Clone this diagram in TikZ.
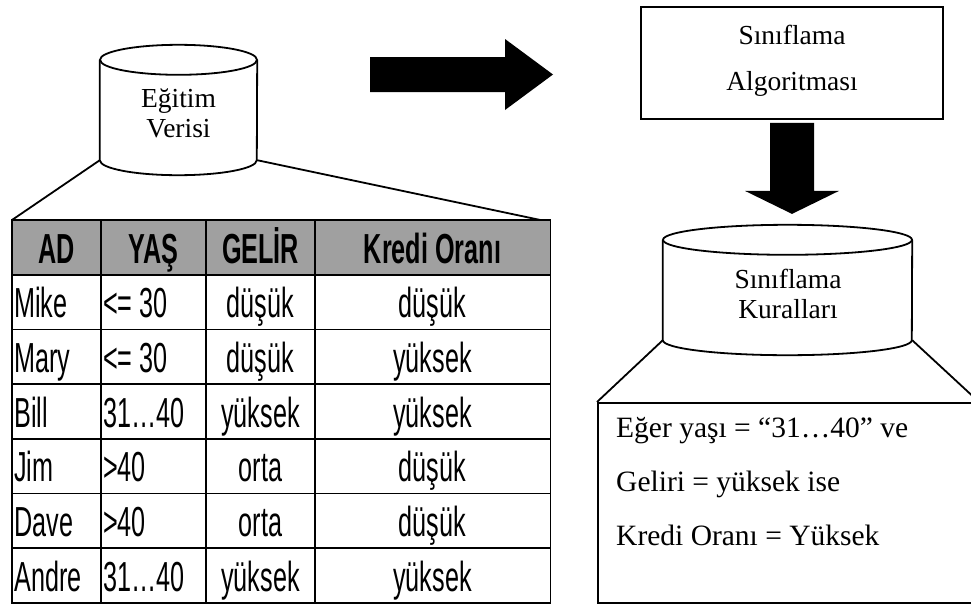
\documentclass[tikz,border=0pt]{standalone}
\usepackage{fontspec}
\setmainfont{Liberation Serif}
\newfontfamily\tabfont[FakeStretch=0.6]{Liberation Sans}
\usetikzlibrary{calc}
\definecolor{headgray}{RGB}{160,160,160}

\begin{document}
\begin{tikzpicture}[x=1pt,y=-1pt,
  outline/.style={draw=black,line width=1.8pt},
  serif/.style={font=\fontsize{27.5}{30}\selectfont,inner sep=0pt,anchor=base},
  ruletext/.style={font=\fontsize{29.5}{32}\selectfont,inner sep=0pt,anchor=base west},
  headcell/.style={font=\tabfont\bfseries\fontsize{42}{46}\selectfont,inner sep=0pt,anchor=base},
  cellc/.style={font=\tabfont\fontsize{42}{46}\selectfont,inner sep=0pt,anchor=base},
  celll/.style={cellc,anchor=base west},
  blockarrow/.style={fill=black,draw=none}]

\useasboundingbox (0,0) rectangle (971,605);
\clip (0,0) rectangle (971,605);

% ---------- training data cylinder ----------
\node[minimum width=157,minimum height=100,inner sep=0pt] (train) at (178.5,110) {};
\draw[outline,fill=white] (train.north west) -- (train.south west)
  arc[start angle=180,end angle=0,x radius=78.5,y radius=15] -- (train.north east);
\draw[outline] (train.north) ellipse [x radius=78.5,y radius=15];
\node[serif] (trainA) at (178.5,107) {Eğitim};
\node[serif] (trainB) at (178.5,137) {Verisi};

% ---------- table ----------
\node[minimum width=538,minimum height=382.9,inner sep=0pt,anchor=north west] (tbl) at (12,220) {};
\fill[headgray] (tbl.north west) rectangle (550,274.7);
\foreach \yy in {274.7,329.4,384.1,438.8,493.5,548.2}
  \draw[outline] (12,\yy) -- (550,\yy);
\foreach \xx in {101,206,315}
  \draw[outline] (\xx,220) -- (\xx,602.9);
\draw[outline] (tbl.north west) rectangle (tbl.south east);

\draw[outline] (train.south west) -- (tbl.north west);
\draw[outline] (train.south east) -- ($(tbl.north east)+(-10,0)$);

% header
\node[headcell] (hAD)   at (56.5,263) {AD};
\node[headcell] (hYAS)  at (153.5,263) {YAŞ};
\node[headcell] (hGEL)  at (260.5,263) {GELİR};
\node[headcell] (hKRE)  at (432.5,263) {Kredi Oranı};
% rows
\node[celll] (n1) at (14,317.7) {Mike};
\node[celll] (a1) at (103,317.7) {<= 30};
\node[cellc] (g1) at (260.5,317.7) {düşük};
\node[cellc] (k1) at (432.5,317.7) {düşük};

\node[celll] (n2) at (14,372.4) {Mary};
\node[celll] (a2) at (103,372.4) {<= 30};
\node[cellc] (g2) at (260.5,372.4) {düşük};
\node[cellc] (k2) at (432.5,372.4) {yüksek};

\node[celll] (n3) at (14,427.1) {Bill};
\node[celll] (a3) at (103,427.1) {31…40};
\node[cellc] (g3) at (260.5,427.1) {yüksek};
\node[cellc] (k3) at (432.5,427.1) {yüksek};

\node[celll] (n4) at (14,481.8) {Jim};
\node[celll] (a4) at (103,481.8) {>40};
\node[cellc] (g4) at (260.5,481.8) {orta};
\node[cellc] (k4) at (432.5,481.8) {düşük};

\node[celll] (n5) at (14,536.5) {Dave};
\node[celll] (a5) at (103,536.5) {>40};
\node[cellc] (g5) at (260.5,536.5) {orta};
\node[cellc] (k5) at (432.5,536.5) {düşük};

\node[celll] (n6) at (14,591.2) {Andre};
\node[celll] (a6) at (103,591.2) {31…40};
\node[cellc] (g6) at (260.5,591.2) {yüksek};
\node[cellc] (k6) at (432.5,591.2) {yüksek};

% ---------- big arrow to the algorithm ----------
\coordinate (goR) at (370,74.5);
\fill[blockarrow] (goR) ++(0,-17.5) -- ++(135,0) -- ++(0,-18) -- (553,74.5)
  -- (505,110) -- ++(0,-18) -- ++(-135,0) -- cycle;

% ---------- algorithm box ----------
\node[outline,minimum width=302,minimum height=112,inner sep=0pt] (algo) at (792,63) {};
\node[serif] (algoA) at (792,44) {Sınıflama};
\node[serif] (algoB) at (792,90) {Algoritması};

% ---------- rules cylinder ----------
\node[minimum width=249,minimum height=100,inner sep=0pt] (kb) at (787.5,290) {};
\fill[blockarrow] ($(algo.south)+(-22,3)$) -- ++(44,0) -- ++(0,68) -- ++(25,0)
  -- ($(algo.south)+(0,94)$) -- ++(-47,-23) -- ++(25,0) -- cycle;
\draw[outline,fill=white] (kb.north west) -- (kb.south west)
  arc[start angle=180,end angle=0,x radius=124.5,y radius=15] -- (kb.north east);
\draw[outline] (kb.north) ellipse [x radius=124.5,y radius=15];
\node[serif] (kbA) at (788,288) {Sınıflama};
\node[serif] (kbB) at (788,318) {Kuralları};

% ---------- rule box ----------
\node[outline,minimum width=400,minimum height=200,inner sep=0pt,anchor=north west] (rules) at (597,402) {};
\draw[outline] (kb.south west) -- (rules.north west);
\draw[outline] (kb.south east) -- ($(rules.north west)+(382,0)$);
\node[ruletext] (r1) at (616,437) {Eğer yaşı = “31…40” ve};
\node[ruletext] (r2) at (616,491) {Geliri = yüksek ise};
\node[ruletext] (r3) at (616,545) {Kredi Oranı = Yüksek};

\end{tikzpicture}
\end{document}
